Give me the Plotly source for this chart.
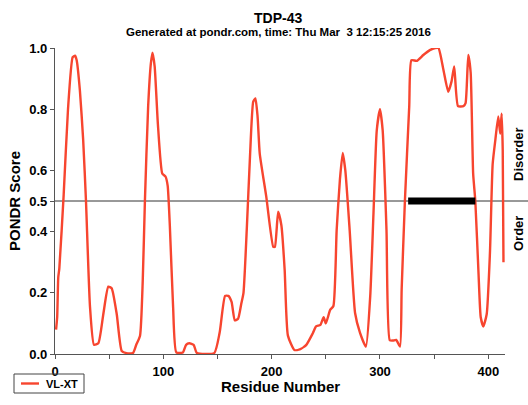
import plotly.graph_objects as go

# Residue positions and PONDR VL-XT scores
residues = [1, 2, 3, 4, 8, 12, 16.3, 18.5, 20, 23, 26, 28.6, 32.3, 36, 40, 44.6, 49.2, 52.3, 57, 61.6,
            66, 72, 75, 78.5, 81, 83, 86, 88.5, 90, 92, 95, 99, 102, 104, 106, 109, 112, 118, 121,
            124, 128, 131, 147, 152, 157, 160, 163, 166, 169, 172, 174, 177, 180, 183, 185, 187,
            189, 195, 201.5, 203, 206, 209, 212, 215, 221, 226, 232, 238, 241, 245, 248, 250, 254,
            257, 260, 263, 265.6, 268, 272, 277, 281.5, 287, 291, 294, 297, 300, 302.5, 306, 309,
            312, 315, 318.5, 320, 323, 327, 329, 334, 340, 346, 351, 354, 358.5, 363, 366, 368.5,
            372, 377, 379, 381.5, 383.7, 386, 388, 391, 393, 395.4, 398.5, 401.5, 404, 406.5, 409.2,
            411, 412.3, 413.3, 414]
scores = [0.08, 0.12, 0.25, 0.28, 0.52, 0.80, 0.97, 0.975, 0.96, 0.86, 0.70, 0.50, 0.155, 0.03, 0.035,
          0.13, 0.22, 0.215, 0.13, 0.01, 0.003, 0.003, 0.03, 0.06, 0.24, 0.50, 0.81, 0.95, 0.985, 0.94,
          0.75, 0.59, 0.58, 0.55, 0.42, 0.155, 0.005, 0.005, 0.03, 0.035, 0.03, 0.003, 0.003, 0.07,
          0.19, 0.19, 0.17, 0.11, 0.115, 0.165, 0.20, 0.405, 0.645, 0.825, 0.835, 0.776, 0.655, 0.515,
          0.35, 0.35, 0.465, 0.42, 0.275, 0.06, 0.013, 0.015, 0.03, 0.068, 0.09, 0.095, 0.12, 0.10,
          0.144, 0.157, 0.405, 0.57, 0.657, 0.60, 0.405, 0.134, 0.07, 0.024, 0.19, 0.46, 0.73, 0.80,
          0.73, 0.405, 0.045, 0.044, 0.046, 0.024, 0.21, 0.50, 0.81, 0.96, 0.958, 0.977, 0.993, 1.0,
          1.0, 0.93, 0.857, 0.89, 0.94, 0.81, 0.81, 0.82, 0.977, 0.92, 0.59, 0.50, 0.26, 0.12, 0.09,
          0.13, 0.33, 0.62, 0.70, 0.776, 0.72, 0.785, 0.667, 0.30]

series_name = "VL-XT"
disorder_region = [326, 388]   # long disordered segment drawn as black bar
threshold = 0.5

y_tickvals = [0.0, 0.2, 0.4, 0.5, 0.6, 0.8, 1.0]
y_ticktext = ["0.0", "0.2", "0.4", "0.5", "0.6", "0.8", "1.0"]
x_tickvals = [0, 100, 200, 300, 400]
x_ticktext = ["0", "100", "200", "300", "400"]

FONT = "Liberation Sans, Arial, Helvetica, sans-serif"
RED = "#f7452f"

fig = go.Figure()
fig.add_trace(go.Scatter(x=residues, y=scores, mode="lines", name=series_name,
                         line=dict(color=RED, width=2.4, shape="spline", smoothing=0.5),
                         showlegend=False))
fig.add_trace(go.Scatter(x=disorder_region, y=[threshold, threshold], mode="lines",
                         line=dict(color="black", width=7), showlegend=False, hoverinfo="skip"))

fig.add_shape(type="line", xref="paper", yref="y", x0=0, x1=1.06, y0=threshold, y1=threshold,
              line=dict(color="#333333", width=1), layer="below")

# legend key box (bottom-left, below the axis)
fig.add_shape(type="rect", xref="paper", yref="paper",
              x0=(14 - 55) / 450, x1=(84 - 55) / 450, y0=(354 - 393) / 306, y1=(354 - 374) / 306,
              line=dict(color="#444444", width=1), fillcolor="rgba(0,0,0,0)")
fig.add_shape(type="line", xref="paper", yref="paper",
              x0=(21 - 55) / 450, x1=(39 - 55) / 450, y0=(354 - 383.5) / 306, y1=(354 - 383.5) / 306,
              line=dict(color=RED, width=2.4))

fig.update_layout(
    width=528, height=405,
    margin=dict(l=55, r=23, t=48, b=51, autoexpand=False),
    paper_bgcolor="white", plot_bgcolor="white",
    font=dict(family=FONT, color="black"),
    showlegend=False,
    xaxis=dict(range=[0, 415.4], showgrid=False, zeroline=False,
               showline=True, linecolor="#555555", linewidth=1.2,
               ticks="outside", ticklen=4, tickcolor="#555555",
               tickvals=x_tickvals, ticktext=x_ticktext, ticklabelstandoff=1,
               ticklabeloverflow="allow",
               tickfont=dict(size=13, family=FONT, weight="bold"),
               minor=dict(dtick=50, tick0=0, ticks="outside", ticklen=4, tickcolor="#555555"),
               automargin=False),
    yaxis=dict(range=[0, 1.0], showgrid=False, zeroline=False,
               showline=True, linecolor="#555555", linewidth=1.2,
               ticks="outside", ticklen=4, tickcolor="#555555",
               tickvals=y_tickvals, ticktext=y_ticktext,
               tickfont=dict(size=13, family=FONT, weight="bold"),
               title=dict(text="PONDR Score", font=dict(size=15, family=FONT, weight="bold"),
                          standoff=4),
               automargin=False),
    annotations=[
        dict(text="TDP-43", xref="paper", yref="paper", x=0.496, y=1.0 + (48 - 18) / 306,
             showarrow=False, font=dict(size=14, family=FONT, weight="bold"), yanchor="middle"),
        dict(text="Generated at pondr.com, time: Thu Mar \u00a03 12:15:25 2016", xref="paper",
             yref="paper", x=0.496, y=1.0 + (48 - 32.5) / 306, showarrow=False,
             font=dict(size=11.5, family=FONT, weight="bold"), yanchor="middle"),
        dict(text="Residue Number", xref="paper", yref="paper", x=0.5, y=-(386 - 354) / 306,
             showarrow=False, font=dict(size=15, family=FONT, weight="bold"), yanchor="middle"),
        dict(text=series_name, xref="paper", yref="paper", x=(44 - 55) / 450, y=(354 - 383.5) / 306,
             showarrow=False, xanchor="left", yanchor="middle",
             font=dict(size=11, family=FONT, weight="bold")),
        dict(text="Disorder", xref="paper", yref="paper", x=(518 - 55) / 450, y=(354 - 155) / 306,
             showarrow=False, textangle=-90, font=dict(size=13, family=FONT, weight="bold"),
             xanchor="center", yanchor="middle"),
        dict(text="Order", xref="paper", yref="paper", x=(518 - 55) / 450, y=(354 - 234) / 306,
             showarrow=False, textangle=-90, font=dict(size=13, family=FONT, weight="bold"),
             xanchor="center", yanchor="middle"),
    ],
)

fig.write_html("out.html")
